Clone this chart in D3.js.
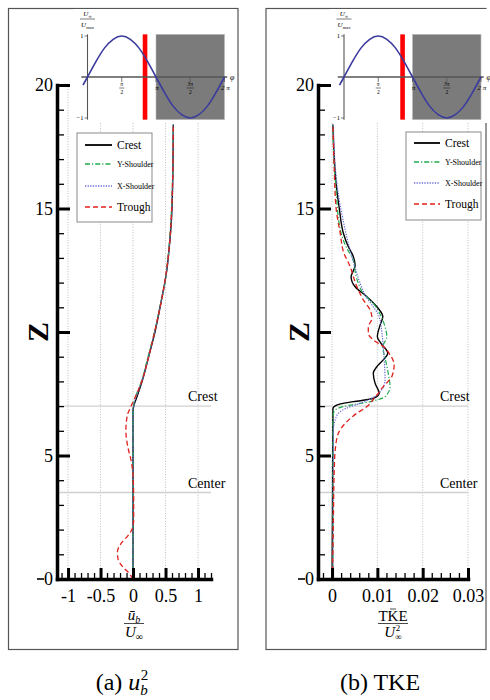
<!DOCTYPE html>
<html>
<head>
<meta charset="utf-8">
<script src="https://cdn.jsdelivr.net/npm/d3@7"></script>
<style>
  body { margin: 0; background: #fff; }
  svg { display: block; }
</style>
</head>
<body>
<div id="graf"></div>
<script>
// -- Datos
const zTicks = [0, 5, 10, 15, 20]
const ubTicks = [-1, -0.5, 0, 0.5, 1]
const tkeTicks = [0, 0.01, 0.02, 0.03]
const refLevels = [7, 3.5]
const refNames = ['Crest', 'Center']
const seriesNames = ['Crest', 'Y-Shoulder', 'X-Shoulder', 'Trough']

// -- perfiles u_b / U_inf : [valor, z]
const ubCrest = [[0,0],[0,2],[0,4],[0,6],[0,6.8],[0.01,7.0],[0.05,7.3],[0.14,8],[0.24,9],[0.32,9.8],[0.43,11.2],[0.52,12.5],[0.56,13.5],[0.59,14.5],[0.61,16],[0.62,18.4]]
const ubYSh = [[0,0],[0,3],[0,6.8],[0.005,7.0],[0.03,7.3],[0.13,8],[0.23,9],[0.33,10],[0.42,11.1],[0.48,11.8],[0.53,12.8],[0.57,14],[0.6,15.5],[0.62,18.4]]
const ubXSh = [[0,0],[0,3],[0,6.8],[0.02,7.1],[0.08,7.6],[0.16,8.2],[0.25,9.1],[0.34,10.1],[0.44,11.3],[0.52,12.5],[0.56,13.5],[0.6,15],[0.62,18.4]]
const ubTrough = [[0,0],[-0.05,0.2],[-0.16,0.5],[-0.23,0.8],[-0.24,1.1],[-0.18,1.45],[-0.08,1.75],[-0.01,2.05],[0.01,2.4],[0.01,3.2],[0,4.2],[-0.03,4.8],[-0.08,5.35],[-0.11,6.0],[-0.09,6.6],[-0.03,7.0],[0.04,7.4],[0.14,8.05],[0.25,9.1],[0.34,10.1],[0.44,11.3],[0.51,12.4],[0.56,13.5],[0.59,14.7],[0.61,16.2],[0.62,18.4]]

// -- perfiles TKE / U_inf^2 : [valor, z]
const tkeCrest = [[0,0],[0.0001,3],[0.0002,6.9],[0.001,7.04],[0.0047,7.18],[0.0091,7.31],[0.0104,7.52],[0.0095,7.92],[0.0091,8.33],[0.0099,8.6],[0.0113,8.87],[0.0123,9.14],[0.0108,9.54],[0.0100,9.81],[0.0106,10.28],[0.0112,10.62],[0.0099,11.02],[0.0077,11.43],[0.0051,11.83],[0.0042,12.24],[0.0046,12.44],[0.0051,12.7],[0.0047,13.05],[0.0036,13.45],[0.0025,14.0],[0.0016,15.0],[0.0009,16.0],[0.0005,17.0],[0.0002,18.4]]
const tkeYSh = [[0.0002,0],[0.0002,6.5],[0.0004,6.77],[0.0024,6.98],[0.0084,7.18],[0.0117,7.38],[0.0128,7.79],[0.0124,8.33],[0.0118,8.87],[0.0112,9.41],[0.0121,9.81],[0.0117,10.2],[0.0107,10.69],[0.0091,11.16],[0.0069,11.56],[0.0058,11.97],[0.0051,12.44],[0.0047,12.9],[0.0031,13.45],[0.002,14.0],[0.0014,14.6],[0.001,15.5],[0.0004,17],[0.0002,18.4]]
const tkeXSh = [[0.0002,0],[0.0003,6.0],[0.001,6.6],[0.003,6.9],[0.006,7.1],[0.0104,7.52],[0.0117,8.06],[0.0116,8.6],[0.0114,9.14],[0.011,9.95],[0.0104,10.62],[0.0091,11.02],[0.0075,11.43],[0.0062,11.97],[0.0051,12.6],[0.004,13.3],[0.0027,14.3],[0.0016,15.34],[0.0008,16.5],[0.0003,18.4]]
const tkeTrough = [[0.0001,0],[0.0003,2.5],[0.0005,4.5],[0.0007,5.22],[0.0014,5.9],[0.0029,6.3],[0.0054,6.7],[0.0077,6.98],[0.0093,7.31],[0.0113,7.79],[0.0132,8.2],[0.0137,8.67],[0.0128,9.08],[0.0113,9.41],[0.0091,9.68],[0.008,9.95],[0.008,10.2],[0.0088,10.55],[0.0084,10.89],[0.0069,11.3],[0.0058,11.7],[0.0047,12.24],[0.004,12.65],[0.0026,13.2],[0.0018,14.0],[0.0009,15.0],[0.0005,16.5],[0.0002,18.4]]

// -- recuadro: U_inf/U_max vs fase (fase en unidades de pi)
const phaseT = [-0.066, 0, 0.125, 0.25, 0.375, 0.5, 0.625, 0.75, 0.875, 1, 1.125, 1.25, 1.375, 1.5, 1.625, 1.75, 1.875, 2]
const phaseU = [-0.2, 0, 0.38, 0.71, 0.92, 1, 0.92, 0.71, 0.38, 0, -0.38, -0.71, -0.92, -1, -0.92, -0.71, -0.38, 0]
const phaseTicks = [0.5, 1, 1.5, 2]
const phaseMarkA = 0.84
const phaseMarkB = 0.855

// -- estilos de las series
const estilos = [
  {color: '#000000', dash: null, w: 1.4},
  {color: '#1faa4f', dash: '5,2,1.2,2', w: 1.2},
  {color: '#6b6bd6', dash: '1.3,1.3', w: 1.2},
  {color: '#e0201c', dash: '5,3', w: 1.3}
]

const FONT = "'Liberation Serif', 'DejaVu Serif', serif"

// -- Configuración del canvas
const svg = d3.select('#graf').append('svg')
  .attr('width', 490).attr('height', 700)
  .style('font-family', FONT)

const y = d3.scaleLinear().domain([0, 20]).range([579, 85])

function fraccion (g, cx, yNum, yBar, yDen, halfW, num, den, size) {
  const t1 = g.append('text').attr('x', cx).attr('y', yNum)
    .attr('text-anchor', 'middle').attr('font-size', size)
  num(t1)
  g.append('line').attr('x1', cx - halfW).attr('x2', cx + halfW)
    .attr('y1', yBar).attr('y2', yBar).attr('stroke', '#222').attr('stroke-width', Math.max(0.6, size / 18))
  const t2 = g.append('text').attr('x', cx).attr('y', yDen)
    .attr('text-anchor', 'middle').attr('font-size', size)
  den(t2)
}

function recuadro (g, x0, mark) {
  const px = d3.scaleLinear().domain([0, 2]).range([x0, x0 + 137])
  const py = d3.scaleLinear().domain([-1, 1]).range([118, 36])

  // fondo blanco que tapa la rejilla
  g.append('rect').attr('x', x0 - 14).attr('y', 9).attr('width', px(2.18) - x0 + 14)
    .attr('height', 114).attr('fill', '#fff')

  g.append('rect').attr('x', px(1)).attr('y', py(1.04)).attr('width', px(2) - px(1))
    .attr('height', py(-1.04) - py(1.04)).attr('fill', '#7b7b7b')
    .attr('stroke', '#bbb').attr('stroke-width', 0.6)

  g.append('rect').attr('x', px(mark) - 2.3).attr('y', py(1.04)).attr('width', 4.6)
    .attr('height', py(-1.04) - py(1.04)).attr('fill', '#ff0000')

  // ejes
  g.append('line').attr('x1', px(-0.09)).attr('x2', px(2.04)).attr('y1', py(0)).attr('y2', py(0))
    .attr('stroke', '#555').attr('stroke-width', 1.3)
  g.append('line').attr('x1', x0).attr('x2', x0).attr('y1', py(1.04)).attr('y2', py(-1.04))
    .attr('stroke', '#555').attr('stroke-width', 1.1)
  g.append('text').attr('x', px(2.08)).attr('y', py(0) + 2.5).attr('font-size', 8)
    .attr('font-style', 'italic').text('φ')

  ;[1, -1].forEach(v => {
    g.append('line').attr('x1', x0 - 3).attr('x2', x0).attr('y1', py(v)).attr('y2', py(v))
      .attr('stroke', '#555').attr('stroke-width', 0.8)
    g.append('text').attr('x', x0 - 4).attr('y', py(v) + 2.2).attr('font-size', 6.5)
      .attr('text-anchor', 'end').text(v > 0 ? '1' : '−1')
  })

  phaseTicks.forEach(t => {
    g.append('line').attr('x1', px(t)).attr('x2', px(t)).attr('y1', py(0)).attr('y2', py(0) + 5)
      .attr('stroke', '#555').attr('stroke-width', 0.8)
  })
  const fy = py(0)
  fraccion(g, px(0.5), fy + 9, fy + 11, fy + 17, 2.5,
    t => t.attr('font-style', 'italic').text('π'), t => t.text('2'), 5.5)
  fraccion(g, px(1.5), fy + 9, fy + 11, fy + 17, 3.5,
    t => t.attr('font-style', 'italic').text('3π'), t => t.text('2'), 5.5)
  g.append('text').attr('x', px(1) + 1).attr('y', fy + 13).attr('font-size', 7)
    .attr('font-style', 'italic').attr('text-anchor', 'middle').text('π')
  g.append('text').attr('x', px(2) + 1).attr('y', fy + 13).attr('font-size', 7)
    .attr('font-style', 'italic').attr('text-anchor', 'middle').text('2 π')

  // etiqueta U_inf / U_max
  fraccion(g, x0, 16, 19, 27, 7.5,
    t => { t.append('tspan').attr('font-style', 'italic').text('U')
           t.append('tspan').attr('font-size', 4.5).attr('dy', 1.5).text('∞') },
    t => { t.append('tspan').attr('font-style', 'italic').text('U')
           t.append('tspan').attr('font-size', 4.5).attr('dy', 1.5).text('max') }, 7)

  const linea = d3.line()
    .x((d, i) => px(phaseT[i]))
    .y(d => py(d))
    .curve(d3.curveNatural)
  g.append('path').datum(phaseU).attr('d', linea)
    .attr('fill', 'none').attr('stroke', '#3b3b9e').attr('stroke-width', 1.6)
}

function leyenda (g, bx, by, bw, bh, lx1, lx2, rows) {
  g.append('rect').attr('x', bx).attr('y', by).attr('width', bw).attr('height', bh)
    .attr('fill', '#fff').attr('stroke', '#8a8a8a').attr('stroke-width', 1)
  seriesNames.forEach((n, i) => {
    const st = estilos[i]
    g.append('line').attr('x1', lx1).attr('x2', lx2).attr('y1', rows[i]).attr('y2', rows[i])
      .attr('stroke', st.color).attr('stroke-width', i === 0 ? 1.8 : 1.3)
      .attr('stroke-dasharray', st.dash)
    const small = (i === 1 || i === 2)
    g.append('text').attr('x', lx2 + 5).attr('y', rows[i] + (small ? 3 : 4))
      .attr('font-size', small ? 8 : 11.5).text(n)
  })
}

function panel (cfg) {
  const g = svg.append('g')
  const x = d3.scaleLinear().domain(cfg.domain).range(cfg.range)
  const x0 = cfg.range[0], x1 = cfg.range[1]

  // marco
  g.append('rect').attr('x', cfg.frame[0]).attr('y', 8.5)
    .attr('width', cfg.frame[1] - cfg.frame[0]).attr('height', 641)
    .attr('fill', 'none').attr('stroke', '#555').attr('stroke-width', 1.2)

  // rejilla punteada
  g.append('g').selectAll('line').data(cfg.ticks).join('line')
    .attr('x1', d => x(d)).attr('x2', d => x(d)).attr('y1', y(0)).attr('y2', y(20))
    .attr('stroke', '#b5b5b5').attr('stroke-width', 0.9).attr('stroke-dasharray', '1,1.6')

  // niveles de referencia
  refLevels.forEach((lv, i) => {
    g.append('line').attr('x1', x0).attr('x2', x1).attr('y1', y(lv)).attr('y2', y(lv))
      .attr('stroke', '#d0d0d0').attr('stroke-width', 1.4)
    g.append('text').attr('x', x1 - cfg.labOff).attr('y', y(lv) - 5)
      .attr('font-size', 14).text(refNames[i])
  })

  // curvas
  const linea = d3.line().x(d => x(d[0])).y(d => y(d[1])).curve(d3.curveMonotoneY)
  cfg.series.forEach((s, i) => {
    const st = estilos[i]
    g.append('path').datum(s).attr('d', linea)
      .attr('fill', 'none').attr('stroke', st.color).attr('stroke-width', st.w)
      .attr('stroke-dasharray', st.dash)
  })

  recuadro(g, cfg.insetX, cfg.mark)
  leyenda(g, ...cfg.legend)

  // ejes
  const ejeX = g.append('g').attr('transform', `translate(0,${y(0)})`)
  ejeX.call(d3.axisBottom(x).tickValues(cfg.minor).tickSize(-6).tickSizeOuter(0).tickFormat(''))
  ejeX.select('.domain').remove()
  ejeX.selectAll('line').attr('stroke', '#000').attr('stroke-width', 1.3)

  const ejeX2 = g.append('g').attr('transform', `translate(0,${y(0)})`)
  ejeX2.call(d3.axisBottom(x).tickValues(cfg.ticks).tickSize(-11).tickSizeOuter(0)
    .tickPadding(10).tickFormat(cfg.fmt))
  ejeX2.select('.domain').attr('stroke-width', 3.5).attr('stroke-linecap', 'square')
  ejeX2.selectAll('line').attr('stroke-width', 3)
  ejeX2.selectAll('text').attr('font-size', 18).attr('font-family', FONT)

  const ejeY = g.append('g').attr('transform', `translate(${x0},0)`)
  ejeY.call(d3.axisLeft(y).ticks(20).tickSize(-7).tickSizeOuter(0).tickFormat(''))
  ejeY.select('.domain').remove()
  ejeY.selectAll('line').attr('stroke-width', 1.3)

  const ejeY2 = g.append('g').attr('transform', `translate(${x0},0)`)
  ejeY2.call(d3.axisLeft(y).tickValues(zTicks).tickSize(-13).tickSizeOuter(0)
    .tickPadding(4).tickFormat(d => d === 10 ? '' : d))
  ejeY2.select('.domain').attr('stroke-width', 3.5).attr('stroke-linecap', 'square')
  ejeY2.selectAll('line').attr('stroke-width', 3)
  ejeY2.selectAll('text').attr('font-size', 18).attr('font-family', FONT)

  g.append('line').attr('x1', x0 - 20).attr('x2', x0 - 13).attr('y1', y(0)).attr('y2', y(0))
    .attr('stroke', '#000').attr('stroke-width', 1.6)

  // letra Z
  g.append('text').attr('transform', `translate(${x0 - 9},${y(10)}) rotate(-90)`)
    .attr('text-anchor', 'middle').attr('font-size', 30).attr('font-weight', 'bold')
    .text('Z')

  // etiqueta del eje x
  cfg.xLabel(g, (x0 + x1) / 2)

  // leyenda inferior
  const cap = svg.append('text').attr('x', cfg.capX).attr('y', 690)
    .attr('text-anchor', 'middle').attr('font-size', 24)
  cfg.caption(cap)
}

panel({
  domain: [-1.17, 1.2], range: [57, 211], frame: [8.5, 238],
  ticks: ubTicks, minor: d3.range(-11, 13).map(d => d / 10),
  fmt: d => d, labOff: 23,
  series: [ubCrest, ubYSh, ubXSh, ubTrough],
  insetX: 87.5, mark: phaseMarkA,
  legend: [77, 133, 75, 89, 85, 112, [145, 164, 186, 207]],
  capX: 122,
  xLabel: (g, cx) => fraccion(g, cx, 620, 623.5, 637, 10,
    t => { t.append('tspan').attr('font-style', 'italic').text('ū')
           t.append('tspan').attr('font-style', 'italic').attr('font-size', 10).attr('dy', 3).text('b') },
    t => { t.append('tspan').attr('font-style', 'italic').text('U')
           t.append('tspan').attr('font-size', 10).attr('dy', 3).text('∞') }, 15),
  caption: t => {
    t.append('tspan').text('(a) ')
    t.append('tspan').attr('font-style', 'italic').text('u')
    t.append('tspan').attr('font-style', 'italic').attr('font-size', 15).attr('dy', 5).text('b')
    t.append('tspan').attr('font-size', 15).attr('dx', -7).attr('dy', -15).text('2')
  }
})

panel({
  domain: [-0.0031, 0.03], range: [318, 468], frame: [266, 486],
  ticks: tkeTicks, minor: d3.range(-1, 16).map(d => d * 0.002),
  fmt: d => d, labOff: 28,
  series: [tkeCrest, tkeYSh, tkeXSh, tkeTrough],
  insetX: 344, mark: phaseMarkB,
  legend: [406, 132, 75, 88, 414, 440, [143, 162, 183, 204]],
  capX: 380,
  xLabel: (g, cx) => {
    fraccion(g, cx, 621, 623.5, 637, 15,
      t => t.text('TKE'),
      t => { t.append('tspan').attr('font-style', 'italic').text('U')
             t.append('tspan').attr('font-size', 9).attr('dy', 3).text('∞')
             t.append('tspan').attr('font-size', 9).attr('dx', -6).attr('dy', -9).text('2') }, 15)
    g.append('line').attr('x1', cx - 3).attr('x2', cx + 3).attr('y1', 609).attr('y2', 609)
      .attr('stroke', '#222').attr('stroke-width', 0.8)
  },
  caption: t => t.text('(b) TKE')
})
</script>
</body>
</html>
